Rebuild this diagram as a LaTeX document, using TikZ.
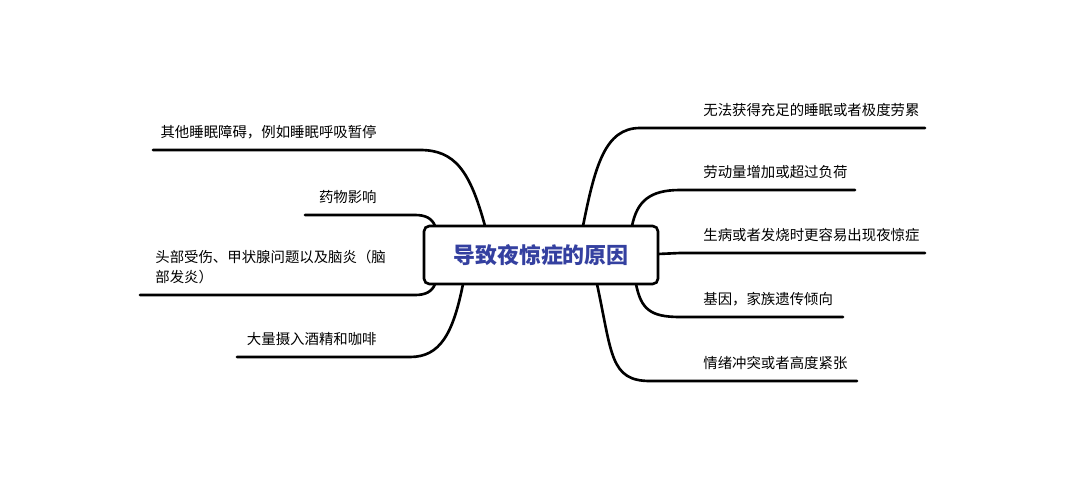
\documentclass[tikz,border=0pt]{standalone}
\usepackage{fontspec}
\setmainfont{Noto Sans CJK SC}
\usetikzlibrary{calc}
\definecolor{hubblue}{RGB}{52,64,160}

\tikzset{
  branch/.style={line width=1.5pt, line cap=round},
  leaf/.style={inner sep=0pt, font=\fontsize{8.2pt}{11.5pt}\selectfont},
  hub/.style={draw, line width=1.5pt, rounded corners=3pt, fill=white,
    minimum width=4.68cm, minimum height=1.16cm,
    text=hubblue, font=\fontsize{12.5pt}{15pt}\selectfont\bfseries}
}

\begin{document}
\begin{tikzpicture}[x=0.02cm, y=-0.02cm]
\useasboundingbox (0,0) rectangle (1070,500);

% right side
\coordinate (ra) at (640,128); \coordinate (ra2) at (925,128);
\coordinate (rb) at (680,190); \coordinate (rb2) at (855,190);
\coordinate (rc) at (680,253); \coordinate (rc2) at (925,253);
\coordinate (rd) at (680,317); \coordinate (rd2) at (843,317);
\coordinate (re) at (650,381); \coordinate (re2) at (857,381);
% left side
\coordinate (la) at (420,150); \coordinate (la2) at (153,150);
\coordinate (lb) at (415,215); \coordinate (lb2) at (305,215);
\coordinate (lc) at (415,295); \coordinate (lc2) at (140,295);
\coordinate (ld) at (410,357); \coordinate (ld2) at (237,357);

\draw[branch] (583,226) .. controls ($(583,226)+(12,-60)$) and ($(ra)+(-35,0)$) .. (ra) -- (ra2);
\draw[branch] (632,226) .. controls ($(632,226)+(5,-25)$) and ($(rb)+(-30,0)$) .. (rb) -- (rb2);
\draw[branch] (658,254) -- (rc) -- (rc2);
\draw[branch] (636,284) .. controls ($(636,284)+(5,25)$) and ($(rd)+(-30,0)$) .. (rd) -- (rd2);
\draw[branch] (597,284) .. controls ($(597,284)+(15,70)$) and ($(re)+(-40,0)$) .. (re) -- (re2);

\draw[branch] (485,226) .. controls ($(485,226)+(-15,-55)$) and ($(la)+(35,0)$) .. (la) -- (la2);
\draw[branch] (435,226) .. controls ($(435,226)+(-3,-8)$) and ($(lb)+(10,0)$) .. (lb) -- (lb2);
\draw[branch] (435,284) .. controls ($(435,284)+(-3,8)$) and ($(lc)+(10,0)$) .. (lc) -- (lc2);
\draw[branch] (463,284) .. controls ($(463,284)+(-10,50)$) and ($(ld)+(30,0)$) .. (ld) -- (ld2);

\node[hub] (root) at (541,255) {导致夜惊症的原因};

\node[leaf, anchor=south west] (ta) at ($(ra)+(63,-11)$) {无法获得充足的睡眠或者极度劳累};
\node[leaf, anchor=south west] (tb) at ($(rb)+(23,-11)$) {劳动量增加或超过负荷};
\node[leaf, anchor=south west] (tc) at ($(rc)+(23,-11)$) {生病或者发烧时更容易出现夜惊症};
\node[leaf, anchor=south west] (td) at ($(rd)+(23,-11)$) {基因，家族遗传倾向};
\node[leaf, anchor=south west] (te) at ($(re)+(53,-11)$) {情绪冲突或者高度紧张};

\node[leaf, anchor=south east] (sa) at (377,139) {其他睡眠障碍，例如睡眠呼吸暂停};
\node[leaf, anchor=south east] (sb) at (377,204) {药物影响};
\node[leaf, anchor=south west, align=left] (sc) at (155,284) {头部受伤、甲状腺问题以及脑炎（脑\\部发炎）};
\node[leaf, anchor=south east] (sd) at (377,346) {大量摄入酒精和咖啡};
\end{tikzpicture}
\end{document}
